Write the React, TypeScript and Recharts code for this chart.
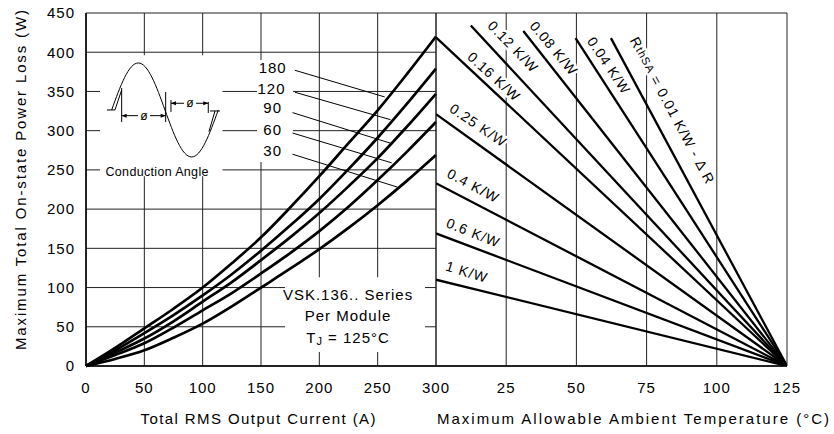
import React from "react";
import {
  LineChart,
  Line,
  XAxis,
  YAxis,
  CartesianGrid,
  ReferenceArea,
  ReferenceLine,
  ReferenceDot,
} from "recharts";

const FONT = '"Liberation Sans", Arial, sans-serif';

// left panel: power loss vs RMS current, one curve per conduction angle
const currents = [0, 25, 50, 75, 100, 125, 150, 175, 200, 225, 250, 275, 300];
const loss180 = [0, 23, 48, 73, 100, 131, 164, 202, 242, 284, 326, 372, 420];
const loss120 = [0, 20, 42, 65, 90, 117, 147, 179, 213, 251, 291, 334, 379];
const loss90 = [0, 17, 35, 57, 82, 107, 135, 164, 195, 229, 265, 305, 347];
const loss60 = [0, 14, 29, 49, 71, 93, 118, 144, 172, 203, 237, 273, 311];
const loss30 = [0, 9, 20, 36, 54, 76, 100, 124, 149, 176, 205, 236, 269];
const angleNames = ["180", "120", "90", "60", "30"];

// right panel: heatsink thermal resistance lines, start point -> (125 °C, 0 W)
const rthNames = ["1 K/W", "0.6 K/W", "0.4 K/W", "0.25 K/W", "0.16 K/W", "0.12 K/W", "0.08 K/W", "0.04 K/W", "0.01 K/W"];
const rthStartTemp = [0, 0, 0, 0, 0, 12.4, 31.1, 49.7, 62.3];
const rthStartLoss = [110, 169, 233, 321, 419, 434, 427, 418, 418];
const rthEndTemp = 125;

const lossTicks = [0, 50, 100, 150, 200, 250, 300, 350, 400, 450];
const currentTicks = [0, 50, 100, 150, 200, 250, 300];
const ambientTicks = [0, 25, 50, 75, 100, 125];

const curveData = currents.map((current, i) => ({
  current,
  a180: loss180[i],
  a120: loss120[i],
  a90: loss90[i],
  a60: loss60[i],
  a30: loss30[i],
}));
const curveKeys = ["a180", "a120", "a90", "a60", "a30"];

const rthLines = rthNames.map((name, i) => ({
  name,
  data: [
    { t: rthStartTemp[i], p: rthStartLoss[i] },
    { t: rthEndTemp, p: 0 },
  ],
}));

// annotation placement (data coords of label centre + rotation)
const angleLabelPos = [
  { x: 160, y: 381, from: { x: 179, y: 377 }, to: { x: 256, y: 343 } },
  { x: 159, y: 354, from: { x: 179, y: 349 }, to: { x: 261, y: 314 } },
  { x: 160, y: 329, from: { x: 177, y: 323 }, to: { x: 261, y: 284 } },
  { x: 160, y: 301, from: { x: 177, y: 297 }, to: { x: 262, y: 259 } },
  { x: 160, y: 275, from: { x: 177, y: 270 }, to: { x: 267, y: 228 } },
];
const rthLabelPos = [
  { t: 11.0, p: 120, angle: 17 },
  { t: 13.3, p: 170, angle: 22 },
  { t: 13.3, p: 230, angle: 28 },
  { t: 15.1, p: 307, angle: 34 },
  { t: 20.7, p: 369, angle: 42 },
  { t: 27.5, p: 407, angle: 46 },
  { t: 42.0, p: 405, angle: 50 },
  { t: 61.6, p: 383, angle: 56 },
  { t: 84.2, p: 325.5, angle: 62 },
];

const tickStyle = { fontSize: 15, fill: "#000", fontFamily: FONT, letterSpacing: 1 };
const halo = {
  stroke: "#fff",
  strokeWidth: 5,
  paintOrder: "stroke" as const,
  strokeLinejoin: "round" as const,
};

function RthLabel({ cx, cy, name, angle }: any) {
  const isBase = name === "0.01 K/W";
  return (
    <text
      x={cx}
      y={cy}
      transform={`rotate(${angle} ${cx} ${cy})`}
      textAnchor="middle"
      dominantBaseline="central"
      fontSize={14}
      fontFamily={FONT}
      letterSpacing={1}
      fill="#000"
      {...halo}
    >
      {isBase ? (
        <>
          R<tspan fontSize={11}>thSA</tspan>
          <tspan> = 0.01 K/W - Δ R</tspan>
        </>
      ) : (
        name
      )}
    </text>
  );
}

function ConductionInset({ cx, cy }: any) {
  const s = { stroke: "#000", strokeWidth: 1, fill: "none" };
  const sine =
    "M -48.3 0 C -39.6 -24.1 -31.3 -47 -21.65 -47 C -12 -47 -3.7 -24.1 5 0 " +
    "C 13.7 24.1 22 47 31.65 47 C 41.3 47 49.6 24.1 58.3 0";
  return (
    <g transform={`translate(${cx} ${cy})`}>
      <path d={sine} {...s} />
      <path d="M -53 0 L -45 0 L -38.3 -20" {...s} />
      <path d="M 50 1 L 60 1 M 55 1 L 49 21.7" {...s} />
      <path d="M -38.3 -22 L -38.3 12 M 5.7 -18 L 5.7 12 M 11 -10 L 11 2 M 48.3 -8 L 48.3 3" {...s} />
      <path d="M -38.3 5.7 L -22 5.7 M -10 5.7 L 5.7 5.7 M 11 -6.7 L 24 -6.7 M 36 -6.7 L 48.3 -6.7" {...s} />
      <path d="M -38.3 5.7 l 5 -2 l 0 4 Z M 5.7 5.7 l -5 -2 l 0 4 Z M 11 -6.7 l 5 -2 l 0 4 Z M 48.3 -6.7 l -5 -2 l 0 4 Z" fill="#000" />
      <text x={-16} y={5.7} textAnchor="middle" dominantBaseline="central" fontSize={12} fontFamily={FONT}>ø</text>
      <text x={30} y={-6.7} textAnchor="middle" dominantBaseline="central" fontSize={12} fontFamily={FONT}>ø</text>
      <text x={-3} y={62} textAnchor="middle" dominantBaseline="central" fontSize={12.5} fontFamily={FONT} textLength={103} lengthAdjust="spacing">
        Conduction Angle
      </text>
    </g>
  );
}

function SeriesNote({ cx, cy }: any) {
  const common = { textAnchor: "middle" as const, dominantBaseline: "central" as const, fontSize: 15, fontFamily: FONT, letterSpacing: 1, fill: "#000" };
  return (
    <g>
      <text x={cx} y={cy - 21} {...common}>VSK.136.. Series</text>
      <text x={cx} y={cy} {...common}>Per Module</text>
      <text x={cx} y={cy + 22} {...common}>
        T<tspan fontSize={11} dy={4}>J</tspan>
        <tspan dy={-4}> = 125°C</tspan>
      </text>
    </g>
  );
}

export default function App() {
  return (
    <div style={{ position: "absolute", left: 0, top: 0, width: 834, height: 434, background: "#fff", fontFamily: FONT }}>
      <div style={{ position: "absolute", left: 0, top: 0 }}>
        <LineChart width={440} height={434} data={curveData} margin={{ top: 13, right: 4, left: 0, bottom: 38 }}>
          <CartesianGrid stroke="#222" strokeWidth={1} />
          <XAxis
            dataKey="current"
            type="number"
            domain={[0, 300]}
            ticks={currentTicks}
            interval={0}
            tickFormatter={(v) => (v === 300 ? "" : String(v))}
            height={30}
            tickLine={false}
            tickSize={0}
            tickMargin={16}
            axisLine={{ stroke: "#000", strokeWidth: 1.5 }}
            tick={tickStyle}
          />
          <YAxis
            type="number"
            domain={[0, 450]}
            ticks={lossTicks}
            interval={0}
            width={86}
            tickLine={false}
            tickSize={0}
            tickMargin={11}
            axisLine={{ stroke: "#000", strokeWidth: 1.5 }}
            tick={tickStyle}
          />
          <ReferenceArea x1={12} x2={117} y1={242} y2={396} fill="#fff" fillOpacity={1} stroke="none" />
          <ReferenceArea x1={146.6} x2={177.4} y1={260} y2={390} fill="#fff" fillOpacity={1} stroke="none" />
          <ReferenceArea x1={170.6} x2={290.6} y1={18} y2={113} fill="#fff" fillOpacity={1} stroke="none" />
          {curveKeys.map((k) => (
            <Line
              key={k}
              dataKey={k}
              type="monotone"
              stroke="#000"
              strokeWidth={2.7}
              dot={false}
              activeDot={false}
              isAnimationActive={false}
            />
          ))}
          {angleLabelPos.map((pos, i) => (
            <ReferenceLine key={`lead-${i}`} segment={[pos.from, pos.to]} stroke="#000" strokeWidth={1} />
          ))}
          {angleLabelPos.map((pos, i) => (
            <ReferenceDot
              key={`ang-${i}`}
              x={pos.x}
              y={pos.y}
              r={1}
              shape={(p: any) => (
                <text x={p.cx} y={p.cy} textAnchor="middle" dominantBaseline="central" fontSize={15} fontFamily={FONT} letterSpacing={1} fill="#000">
                  {angleNames[i]}
                </text>
              )}
            />
          ))}
          <ReferenceDot x={63.4} y={326.4} r={1} shape={(p: any) => <ConductionInset cx={p.cx} cy={p.cy} />} />
          <ReferenceDot x={224.6} y={65} r={1} shape={(p: any) => <SeriesNote cx={p.cx} cy={p.cy} />} />
        </LineChart>
      </div>
      <div style={{ position: "absolute", left: 400, top: 0 }}>
        <LineChart width={434} height={434} margin={{ top: 13, right: 47, left: 36, bottom: 38 }}>
          <CartesianGrid stroke="#222" strokeWidth={1} />
          <XAxis
            dataKey="t"
            type="number"
            domain={[0, 125]}
            ticks={ambientTicks}
            interval={0}
            tickFormatter={(v) => (v === 0 ? "300" : String(v))}
            height={30}
            tickLine={false}
            tickSize={0}
            tickMargin={16}
            axisLine={{ stroke: "#000", strokeWidth: 1.5 }}
            tick={tickStyle}
            allowDataOverflow
          />
          <YAxis
            type="number"
            domain={[0, 450]}
            ticks={lossTicks}
            interval={0}
            width={0}
            tick={false}
            tickLine={false}
            axisLine={{ stroke: "#000", strokeWidth: 1.5 }}
            allowDataOverflow
          />
          {rthLines.map((l) => (
            <Line
              key={l.name}
              data={l.data}
              dataKey="p"
              type="linear"
              stroke="#000"
              strokeWidth={2.3}
              dot={false}
              activeDot={false}
              isAnimationActive={false}
            />
          ))}
          {rthLabelPos.map((pos, i) => (
            <ReferenceDot
              key={`rth-${i}`}
              x={pos.t}
              y={pos.p}
              r={1}
              shape={(p: any) => <RthLabel cx={p.cx} cy={p.cy} name={rthNames[i]} angle={pos.angle} />}
            />
          ))}
        </LineChart>
      </div>
      <svg width={834} height={434} style={{ position: "absolute", left: 0, top: 0, pointerEvents: "none" }}>
        <text x={258} y={418} textAnchor="middle" dominantBaseline="central" fontSize={15} fontFamily={FONT} textLength={235} lengthAdjust="spacing">
          Total RMS Output Current (A)
        </text>
        <text x={633} y={418} textAnchor="middle" dominantBaseline="central" fontSize={15} fontFamily={FONT} textLength={392} lengthAdjust="spacing">
          Maximum Allowable Ambient Temperature (°C)
        </text>
        <text
          x={20}
          y={180}
          transform="rotate(-90 20 180)"
          textAnchor="middle"
          dominantBaseline="central"
          fontSize={15}
          fontFamily={FONT}
          textLength={340}
          lengthAdjust="spacing"
        >
          Maximum Total On-state Power Loss (W)
        </text>
      </svg>
    </div>
  );
}
